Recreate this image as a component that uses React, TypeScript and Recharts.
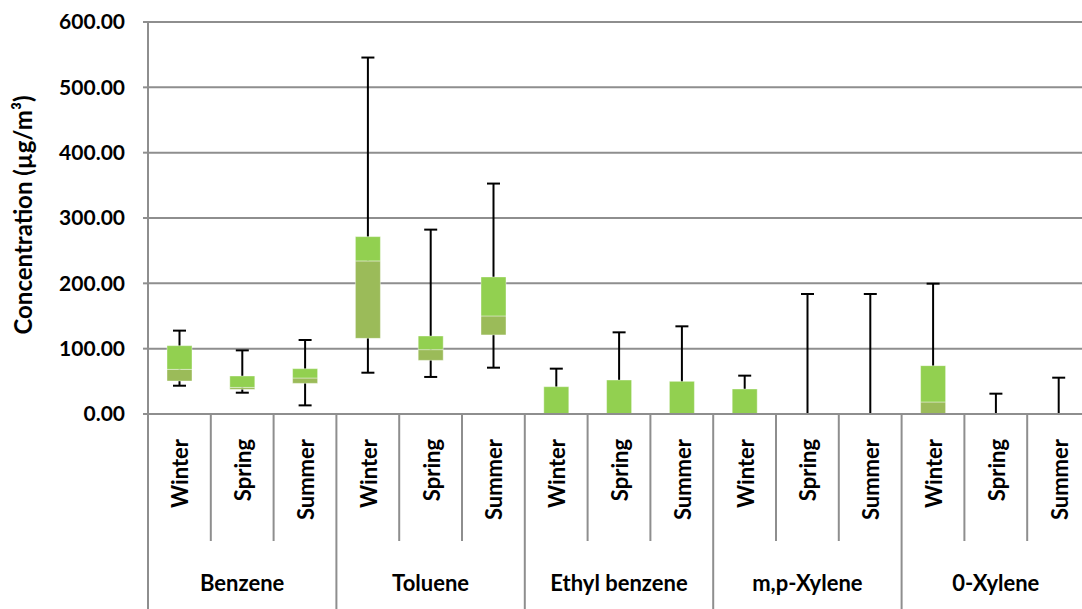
import { Bar, CartesianGrid, ComposedChart, XAxis, YAxis } from "recharts";

const compounds = ["Benzene", "Toluene", "Ethyl benzene", "m,p-Xylene", "0-Xylene"];
const seasons = ["Winter", "Spring", "Summer"];

// box-plot statistics, µg/m³ (15 = 5 compounds x 3 seasons)
const minV = [43.3, 32.6, 13.2, 63.2, 56.7, 70.9, 0, 0, 0, 0, 0, 0, 0, 0, 0];
const q1 = [50.5, 37.7, 46.9, 115.8, 82.1, 121.0, 0, 0, 0, 0, 0, 0, 0, 0, 0];
const median = [68.3, 40.7, 55.1, 234.3, 98.5, 150.1, 0, 0, 0, 0, 0, 0, 18.4, 0, 0];
const q3 = [104.6, 58.2, 69.4, 271.5, 119.4, 209.8, 41.8, 52.0, 50.0, 38.3, 0, 0, 74.0, 0, 0];
const maxV = [127.6, 97.4, 113.3, 545.6, 282.2, 352.7, 69.4, 125.0, 134.2, 58.7, 183.7, 183.7, 199.5, 31.1, 55.6];

const yTicks = [0, 100, 200, 300, 400, 500, 600];

const data = q1.map((_, i) => ({
  key: `${compounds[Math.floor(i / 3)]}|${seasons[i % 3]}`,
  base: q1[i],
  lower: median[i] - q1[i],
  upper: q3[i] - median[i],
  wBase: minV[i],
  wRange: maxV[i] - minV[i],
}));

const FONT = "Lato, 'Noto Sans', sans-serif";
const GRID = "#8e8e8e";

function Whisker(props: any) {
  const { x, y, width, height } = props;
  if (!height) return null;
  const cx = x + width / 2;
  return (
    <g stroke="#000" strokeWidth={2}>
      <line x1={cx} x2={cx} y1={y} y2={y + height} />
      <line x1={x} x2={x + width} y1={y} y2={y} />
      <line x1={x} x2={x + width} y1={y + height} y2={y + height} />
    </g>
  );
}

function SeasonTick(props: any) {
  const { x, y, payload } = props;
  const half = payload.offset ?? 0;
  const season = String(payload.value).split("|")[1];
  return (
    <g>
      <line x1={x - half} x2={x - half} y1={y} y2={y + 127} stroke={GRID} strokeWidth={2} />
      <text
        transform={`translate(${x + 9},${y + 25}) rotate(-90)`}
        textAnchor="end"
        fontFamily={FONT}
        fontWeight={700}
        fontSize={22}
        fill="#000"
      >
        {season}
      </text>
    </g>
  );
}

function GroupTick(props: any) {
  const { x, y, payload, index } = props;
  const half = payload.offset ?? 0;
  const group = String(payload.value).split("|")[0];
  return (
    <g>
      {index % 3 === 0 && (
        <line x1={x - half} x2={x - half} y1={y} y2={y + 68} stroke={GRID} strokeWidth={2} />
      )}
      {index % 3 === 1 && (
        <text x={x} y={y + 50} textAnchor="middle" fontFamily={FONT} fontWeight={700} fontSize={22} fill="#000">
          {group}
        </text>
      )}
    </g>
  );
}

function YTitle(props: any) {
  const { viewBox } = props;
  const cy = viewBox.y + viewBox.height / 2;
  return (
    <text
      transform={`translate(32,${cy - 3}) rotate(-90)`}
      textAnchor="middle"
      fontFamily={FONT}
      fontWeight={700}
      fontSize={24}
      fill="#000"
    >
      Concentration (µg/m³)
    </text>
  );
}

export default function App() {
  return (
    <div style={{ position: "absolute", left: 0, top: 0, width: 1082, height: 609, overflow: "hidden", background: "#fff" }}>
      <ComposedChart width={1090} height={609} data={data} margin={{ top: 22, right: 0, bottom: 0, left: 0 }}>
        <CartesianGrid horizontal vertical={false} stroke={GRID} strokeWidth={2} />
        <XAxis
          xAxisId="a"
          dataKey="key"
          height={127}
          interval={0}
          tickSize={0}
          tickMargin={0}
          tickLine={false}
          axisLine={{ stroke: GRID, strokeWidth: 2 }}
          tick={<SeasonTick />}
        />
        <XAxis
          xAxisId="b"
          dataKey="key"
          height={68}
          interval={0}
          tickSize={0}
          tickMargin={0}
          tickLine={false}
          axisLine={false}
          tick={<GroupTick />}
        />
        <YAxis
          width={148}
          domain={[0, 600]}
          ticks={yTicks}
          interval={0}
          tickFormatter={(v: number) => v.toFixed(2)}
          tickSize={5}
          tickMargin={18}
          axisLine={{ stroke: GRID, strokeWidth: 2 }}
          tickLine={{ stroke: GRID, strokeWidth: 2 }}
          tick={{ fontFamily: FONT, fontWeight: 700, fontSize: 21, fill: "#000" }}
          label={<YTitle />}
        />
        <Bar xAxisId="b" dataKey="wBase" stackId="w" barSize={13} fill="transparent" isAnimationActive={false} />
        <Bar xAxisId="b" dataKey="wRange" stackId="w" barSize={13} shape={<Whisker />} isAnimationActive={false} />
        <Bar xAxisId="a" dataKey="base" stackId="box" barSize={25} fill="transparent" isAnimationActive={false} />
        <Bar
          xAxisId="a"
          dataKey="lower"
          stackId="box"
          barSize={25}
          fill="#9bbb59"
          stroke="#ffffff"
          strokeOpacity={0.4}
          isAnimationActive={false}
        />
        <Bar
          xAxisId="a"
          dataKey="upper"
          stackId="box"
          barSize={25}
          fill="#92d050"
          stroke="#ffffff"
          strokeOpacity={0.4}
          isAnimationActive={false}
        />
      </ComposedChart>
    </div>
  );
}
